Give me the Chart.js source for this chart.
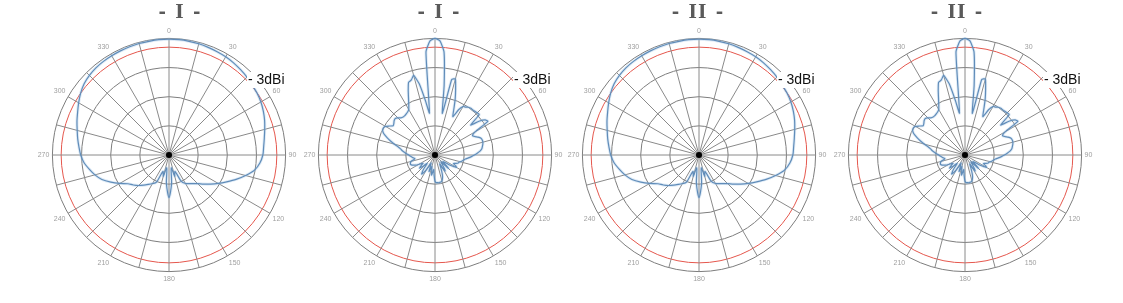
<!DOCTYPE html>
<html>
<head>
<meta charset="utf-8">
<script src="https://cdn.jsdelivr.net/npm/chart.js@4"></script>
<style>
  body { margin: 0; background: #fff; }
  .wrap { position: relative; width: 1123px; height: 303px; }
  .cell { position: absolute; top: 0; width: 264px; height: 303px; }
  .ttl {
    position: absolute; top: 0; width: 264px; text-align: center;
    font: bold 18px "DejaVu Serif", serif; color: #5a5a5a;
    letter-spacing: 1px; word-spacing: 1px; line-height: 24px;
  }
</style>
</head>
<body>
<div class="wrap" id="wrap"></div>
<script>
// angle categories: 5 deg steps for pattern I, 2.5 deg steps for pattern II
const anglesWide = Array.from({ length: 72 }, (_, i) => String(i * 5));
const anglesFine = Array.from({ length: 144 }, (_, i) => String(i * 2.5));

// pattern I (wide), 5 deg steps  -  ring units, 40 = outer ring
const patternI = [
  39.7, 39.7, 39.6, 39.5, 39.3, 39.1, 38.9, 38.6, 38.2, 37.8, 37.3, 36.9,
  36.4, 35.7, 34.9, 34.0, 33.2, 32.6, 32.2, 31.3, 29.8, 27.2, 24.5, 21.8,
  19.5, 17.4, 15.5, 13.9, 12.8, 12.0, 11.3, 10.0, 6.0, 7.5, 4.5, 10.0,
  14.6, 10.0, 4.5, 7.5, 6.0, 10.4, 11.3, 12.3, 13.5, 14.8, 16.0, 17.2,
  19.5, 22.0, 24.5, 26.3, 27.8, 29.3, 30.3, 31.0, 31.8, 32.6, 33.6, 34.6,
  35.8, 37.0, 38.0, 38.6, 39.0, 39.2, 39.3, 39.4, 39.5, 39.6, 39.6, 39.7
];

// pattern II (narrow main lobe + side lobes), 2.5 deg steps
const patternII = [
  40.0, 39.2, 35.5, 24.0, 14.5, 26.5, 27.0, 23.5, 20.2, 16.8, 14.5, 17.5,
  19.2, 19.5, 20.0, 20.2, 20.2, 20.3, 20.5, 20.6, 16.0, 19.0, 21.0, 21.5,
  16.0, 14.5, 15.0, 16.0, 16.8, 17.0, 17.0, 16.8, 16.5, 16.2, 15.5, 14.5,
  13.5, 12.5, 11.5, 10.5, 10.0, 9.5, 9.0, 8.5, 8.3, 7.5, 7.0, 8.0,
  8.5, 7.0, 5.5, 4.0, 3.5, 5.0, 6.5, 4.0, 3.0, 4.0, 5.5, 6.5,
  5.0, 3.5, 4.5, 6.0, 7.5, 8.5, 9.2, 9.5, 9.5, 9.6, 9.5, 9.5,
  9.0, 7.0, 5.0, 6.0, 7.0, 5.0, 4.0, 5.0, 6.0, 4.0, 3.0, 4.0,
  5.5, 7.0, 8.0, 7.0, 5.5, 4.0, 4.5, 6.0, 7.0, 6.0, 5.0, 5.5,
  6.5, 7.5, 8.2, 8.8, 9.0, 8.8, 8.5, 7.5, 7.0, 7.5, 8.0, 8.5,
  9.0, 9.8, 10.5, 11.3, 12.0, 13.0, 14.5, 16.0, 17.5, 19.0, 19.8, 20.0,
  19.6, 18.5, 17.5, 17.8, 18.3, 18.5, 18.0, 17.3, 17.0, 17.0, 17.2, 17.5,
  18.0, 19.5, 21.5, 24.0, 26.5, 27.0, 28.3, 25.0, 19.0, 14.5, 35.5, 39.2
];

const titles = ['- I -', '- I -', '- II -', '- II -'];
const patterns = [patternI, patternII, patternI, patternII];
const ringValues = [0, 10, 20, 30, 37, 40];
const refRing = 37;
const refLabel = '- 3dBi';

// panel placement
const panelLeft = [36, 302, 566, 832];
const titleShift = [12, 5, 0, -7];

const refText = {
  id: 'refText',
  afterDraw(chart) {
    const s = chart.scales.r;
    const c = chart.ctx;
    c.save();
    c.font = '14px "Liberation Sans", Arial, sans-serif';
    c.textBaseline = 'middle';
    const x = s.xCenter + 79, y = s.yCenter - 75;
    const w = c.measureText(refLabel).width;
    c.fillStyle = '#fff';
    c.fillRect(x - 1, y - 8, w + 2, 16);
    c.fillStyle = '#111';
    c.fillText(refLabel, x, y);
    c.restore();
  }
};

const wrap = document.getElementById('wrap');

patterns.forEach((pat, k) => {
  const cell = document.createElement('div');
  cell.className = 'cell';
  cell.style.left = panelLeft[k] + 'px';
  const canvas = document.createElement('canvas');
  cell.appendChild(canvas);
  wrap.appendChild(cell);

  const ttl = document.createElement('div');
  ttl.className = 'ttl';
  ttl.style.left = (panelLeft[k] + titleShift[k]) + 'px';
  ttl.textContent = titles[k];
  wrap.appendChild(ttl);

  const fine = pat === patternII;
  const labels = fine ? anglesFine : anglesWide;
  const per15 = fine ? 6 : 3;
  const tension = fine ? 0.15 : 0.3;

  new Chart(canvas, {
    type: 'radar',
    data: {
      labels: labels,
      datasets: [
        {
          // soft halo under the pattern line
          data: pat,
          borderColor: 'rgba(150,190,225,0.3)',
          borderWidth: 3,
          pointRadius: 0,
          fill: false,
          tension: tension
        },
        {
          data: pat,
          borderColor: '#4a78a8',
          borderWidth: 1.2,
          pointRadius: 0,
          fill: false,
          tension: tension
        },
        {
          data: [0],
          showLine: false,
          pointRadius: 3,
          pointBackgroundColor: '#000',
          pointBorderWidth: 0
        }
      ]
    },
    options: {
      responsive: true,
      maintainAspectRatio: false,
      animation: false,
      layout: { padding: { top: 27, bottom: 20 } },
      plugins: {
        legend: { display: false },
        tooltip: { enabled: false }
      },
      scales: {
        r: {
          min: 0,
          max: 40,
          afterBuildTicks: (scale) => { scale.ticks = ringValues.map(v => ({ value: v })); },
          ticks: { display: false },
          grid: {
            circular: true,
            color: ctx => ctx.tick && ctx.tick.value === refRing ? '#e5574d' : '#7d7d7d',
            lineWidth: 1
          },
          angleLines: {
            color: '#8a8a8a',
            lineWidth: ctx => ctx.index % per15 === 0 ? 1 : 0
          },
          pointLabels: {
            callback: (l, i) => i % (per15 * 2) === 0 ? l : '',
            color: '#a0a0a0',
            font: { size: 7, family: '"Liberation Sans", Arial, sans-serif' },
            padding: 3
          }
        }
      }
    },
    plugins: [refText]
  });
});
</script>
</body>
</html>
